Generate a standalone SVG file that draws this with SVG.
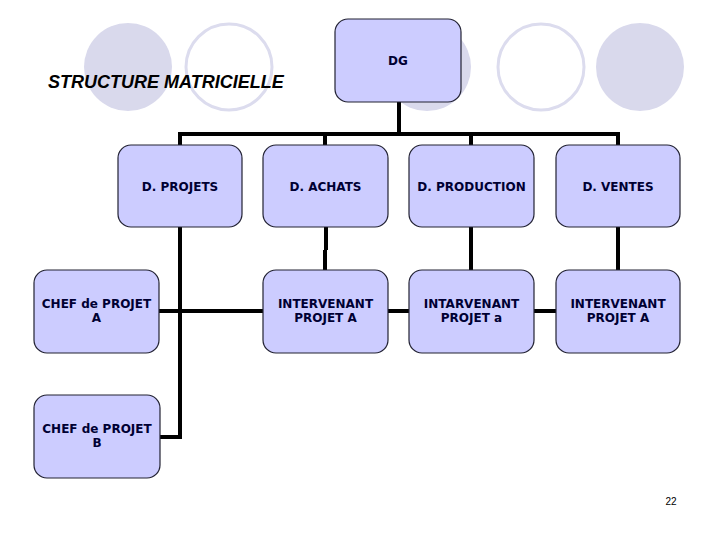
<svg xmlns="http://www.w3.org/2000/svg" width="720" height="540" viewBox="0 0 720 540">
<style>
.bg{fill:#ffffff}
.cf{fill:#d9d9ec}
.co{fill:none;stroke:#dcdcee;stroke-width:3}
.box{fill:#ccccff;stroke:#222233;stroke-width:1.2}
.lbl{font-family:"DejaVu Sans",Verdana,sans-serif;font-weight:bold;font-size:12px;fill:#000033;text-anchor:middle}
.title{font-family:"Liberation Sans",Arial,sans-serif;font-weight:bold;font-style:italic;font-size:18px;fill:#000000}
.pg{font-family:"Liberation Sans",Arial,sans-serif;font-size:10px;fill:#000000;text-anchor:middle}
.con{fill:none;stroke:#000000;stroke-width:4;stroke-linecap:butt;stroke-linejoin:miter}
</style>
<rect class="bg" x="0" y="0" width="720" height="540"/>
<g id="decor">
<circle class="cf" cx="128" cy="67" r="44"/>
<circle class="co" cx="229" cy="67" r="43"/>
<circle class="cf" cx="427" cy="67" r="44"/>
<circle class="co" cx="541" cy="67" r="43"/>
<circle class="cf" cx="640" cy="67" r="44"/>
</g>
<text class="title" x="48" y="88">STRUCTURE MATRICIELLE</text>
<g id="connectors">
<path class="con" d="M399 102 V134"/>
<path class="con" d="M180 145 V134 H618 V145"/>
<path class="con" d="M325 134 V145"/>
<path class="con" d="M471 134 V145"/>
<path class="con" d="M180 227 V437 H160"/>
<path class="con" d="M159 311 H263"/>
<path class="con" d="M388 311 H409"/>
<path class="con" d="M534 311 H556"/>
<path class="con" d="M326 227 V250 M325 250 V270"/>
<path class="con" d="M471 227 V270"/>
<path class="con" d="M618 227 V270"/>
</g>
<g id="dg"><rect class="box" x="335" y="19" width="126" height="83" rx="13"/><text class="lbl" x="398" y="65">DG</text></g>
<g id="dprojets"><rect class="box" x="118" y="145" width="124" height="82" rx="13"/><text class="lbl" x="180" y="191">D. PROJETS</text></g>
<g id="dachats"><rect class="box" x="263" y="145" width="125" height="82" rx="13"/><text class="lbl" x="325.5" y="191">D. ACHATS</text></g>
<g id="dproduction"><rect class="box" x="409" y="145" width="125" height="82" rx="13"/><text class="lbl" x="471.5" y="191">D. PRODUCTION</text></g>
<g id="dventes"><rect class="box" x="556" y="145" width="124" height="82" rx="13"/><text class="lbl" x="618" y="191">D. VENTES</text></g>
<g id="chefa"><rect class="box" x="34" y="270" width="125" height="83" rx="13"/><text class="lbl" x="96.5" y="308">CHEF de PROJET</text><text class="lbl" x="96.5" y="321.5">A</text></g>
<g id="interv1"><rect class="box" x="263" y="270" width="125" height="83" rx="13"/><text class="lbl" x="325.5" y="308">INTERVENANT</text><text class="lbl" x="325.5" y="321.5">PROJET A</text></g>
<g id="interv2"><rect class="box" x="409" y="270" width="125" height="83" rx="13"/><text class="lbl" x="471.5" y="308">INTARVENANT</text><text class="lbl" x="471.5" y="321.5">PROJET a</text></g>
<g id="interv3"><rect class="box" x="556" y="270" width="124" height="83" rx="13"/><text class="lbl" x="618" y="308">INTERVENANT</text><text class="lbl" x="618" y="321.5">PROJET A</text></g>
<g id="chefb"><rect class="box" x="34" y="395" width="126" height="83" rx="13"/><text class="lbl" x="97" y="433">CHEF de PROJET</text><text class="lbl" x="97" y="446.5">B</text></g>
<text class="pg" x="671" y="505">22</text>
</svg>
